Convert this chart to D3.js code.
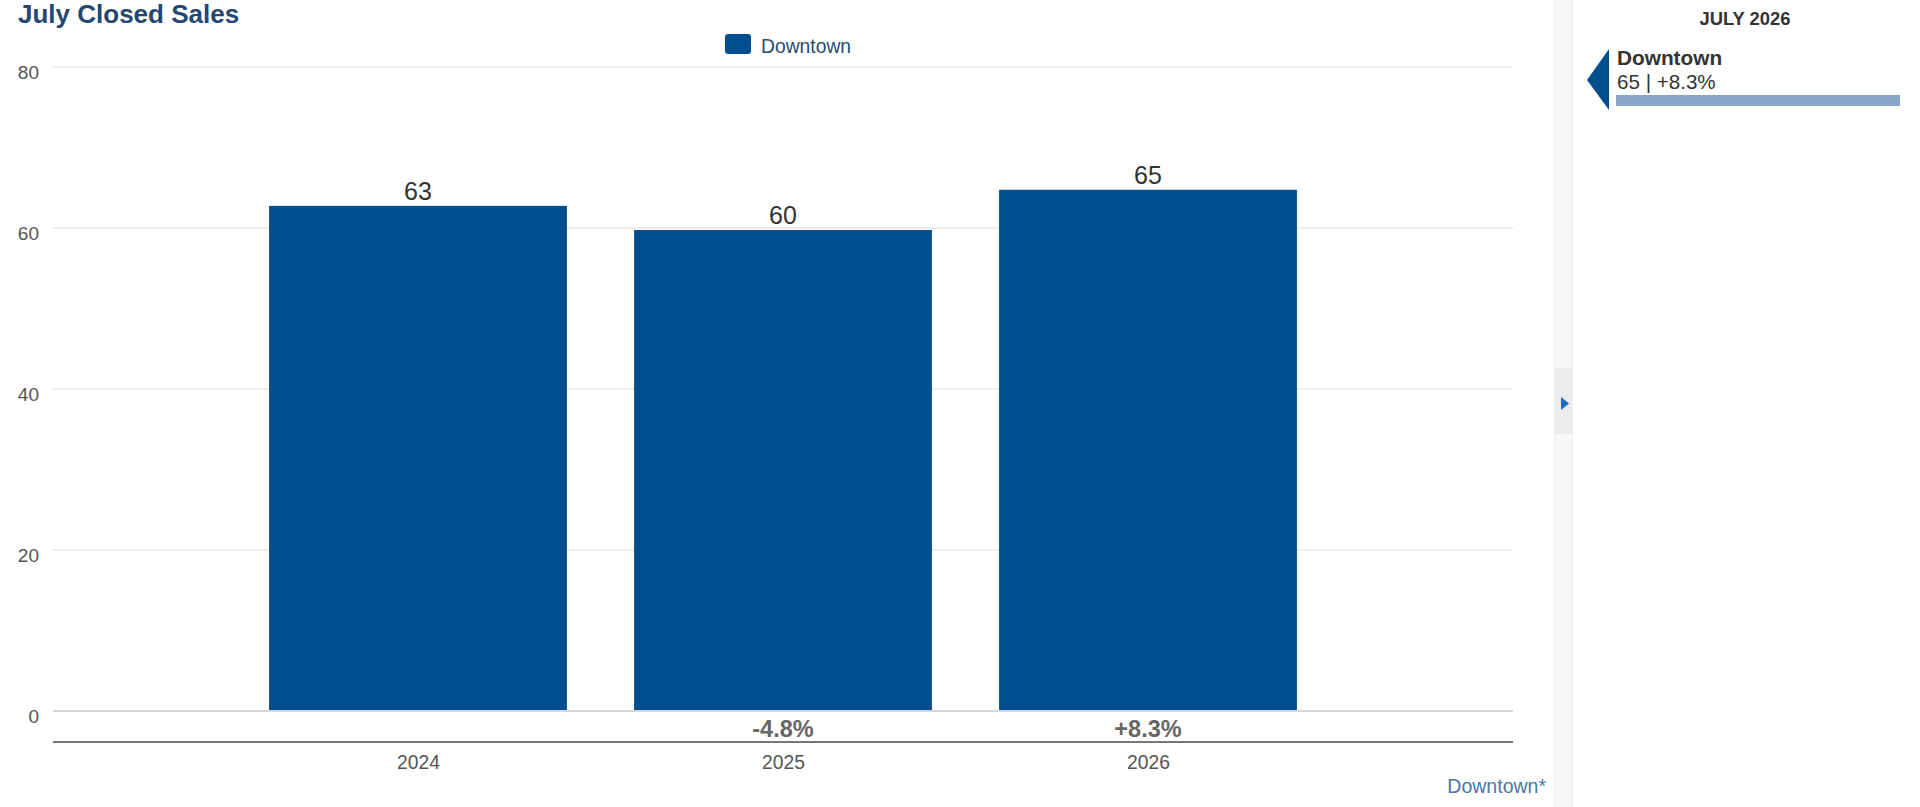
<!DOCTYPE html>
<html>
<head>
<meta charset="utf-8">
<script src="https://cdn.jsdelivr.net/npm/d3@7/dist/d3.min.js"></script>
<style>
  html, body { margin: 0; padding: 0; background: #fff; }
  svg { display: block; font-family: "Liberation Sans", Arial, Helvetica, sans-serif; }
</style>
</head>
<body>
<svg id="chart" width="1920" height="807"></svg>
<script>
// ---- data ----
const chartTitle = "July Closed Sales";
const seriesName = "Downtown";
const years = ["2024", "2025", "2026"];
const values = [63, 60, 65];
const changeLabels = ["", "-4.8%", "+8.3%"];
const yTicks = [0, 20, 40, 60, 80];
const panelTitle = "JULY 2026";
const footnote = "Downtown*";

// ---- layout ----
const W = 1920, H = 807;
const plot = { left: 53, right: 1513, top: 67, bottom: 711 };
const barColor = "#004e8e";

const svg = d3.select("#chart");

const x = d3.scalePoint().domain(years).range([plot.left, plot.right]).padding(1);
const y = d3.scaleLinear().domain([0, 80]).range([plot.bottom, plot.top]);
const barW = x.step() * 0.816;

// title
svg.append("text").attr("x", 18).attr("y", 23)
  .attr("font-size", 26).attr("font-weight", "bold").attr("fill", "#24486f")
  .text(chartTitle);

// legend
const lg = svg.append("g");
lg.append("rect").attr("x", 725).attr("y", 34).attr("width", 26).attr("height", 20)
  .attr("rx", 3).attr("fill", barColor);
lg.append("text").attr("x", 761).attr("y", 53).attr("font-size", 19.3).attr("fill", "#2b4a6e")
  .text(seriesName);

// gridlines
svg.append("g").selectAll("line").data(yTicks).join("line")
  .attr("x1", plot.left).attr("x2", plot.right)
  .attr("y1", d => y(d)).attr("y2", d => y(d))
  .attr("stroke", d => d === 0 ? "#d8d8d8" : "#dcdcdc")
  .attr("stroke-width", d => d === 0 ? 2 : 1);

// y axis labels
const yAxis = d3.axisLeft(y).tickValues(yTicks).tickSize(0).tickPadding(0);
const ya = svg.append("g").attr("transform", `translate(39,0)`).call(yAxis);
ya.select(".domain").remove();
ya.selectAll("text").attr("font-size", 19).attr("fill", "#555")
  .attr("font-family", "Liberation Sans, Arial, sans-serif")
  .attr("dy", "0.32em").attr("transform", "translate(0,5)");

// bars
svg.append("g").selectAll("rect").data(values).join("rect")
  .attr("x", (d, i) => x(years[i]) - barW / 2)
  .attr("y", d => y(d) + 2)
  .attr("width", barW)
  .attr("height", d => y(0) - y(d) - 3)
  .attr("fill", barColor);

// value labels
svg.append("g").selectAll("text").data(values).join("text")
  .attr("x", (d, i) => x(years[i]))
  .attr("y", d => y(d) - 4)
  .attr("text-anchor", "middle").attr("font-size", 25).attr("fill", "#333")
  .text(d => d);

// change labels
svg.append("g").selectAll("text").data(changeLabels).join("text")
  .attr("x", (d, i) => x(years[i]))
  .attr("y", 737)
  .attr("text-anchor", "middle").attr("font-size", 23.5).attr("font-weight", "bold").attr("fill", "#666")
  .text(d => d);

// x axis
const xAxis = d3.axisBottom(x).tickSize(0).tickPadding(0);
const xa = svg.append("g").attr("transform", `translate(0,742)`).call(xAxis);
xa.select(".domain").attr("d", `M${plot.left},0H${plot.right}`).attr("stroke", "#777").attr("stroke-width", 2);
xa.selectAll("text").attr("font-size", 19.3).attr("fill", "#555")
  .attr("font-family", "Liberation Sans, Arial, sans-serif")
  .attr("dy", null).attr("y", 27);

// footnote
svg.append("text").attr("x", 1546).attr("y", 793).attr("text-anchor", "end")
  .attr("font-size", 19.5).attr("fill", "#4a76a8").text(footnote);

// separator band + toggle tab
svg.append("rect").attr("x", 1554).attr("y", 0).attr("width", 19).attr("height", H).attr("fill", "#f7f7f7");
svg.append("line").attr("x1", 1554.5).attr("x2", 1554.5).attr("y1", 0).attr("y2", H).attr("stroke", "#efefef");
svg.append("line").attr("x1", 1572.5).attr("x2", 1572.5).attr("y1", 0).attr("y2", H).attr("stroke", "#f0f0f0");
svg.append("rect").attr("x", 1555).attr("y", 368).attr("width", 17).attr("height", 66).attr("fill", "#ececec");
svg.append("path").attr("d", "M1561,397L1569,403.5L1561,410Z").attr("fill", "#1a6fc4");

// right panel
const lastIdx = values.length - 1;
svg.append("text").attr("x", 1745).attr("y", 25).attr("text-anchor", "middle")
  .attr("font-size", 18.4).attr("font-weight", "bold").attr("fill", "#333").text(panelTitle);
svg.append("path").attr("d", "M1587,80L1609,49L1609,110Z").attr("fill", barColor);
svg.append("text").attr("x", 1617).attr("y", 65)
  .attr("font-size", 20.8).attr("font-weight", "bold").attr("fill", "#333").text(seriesName);
svg.append("text").attr("x", 1617).attr("y", 89)
  .attr("font-size", 20.6).attr("fill", "#333")
  .text(`${values[lastIdx]} | ${changeLabels[lastIdx]}`);
const px = d3.scaleLinear().domain([0, values[lastIdx]]).range([1616, 1900]);
svg.append("rect").attr("x", px(0)).attr("y", 95).attr("width", px(values[lastIdx]) - px(0)).attr("height", 11)
  .attr("fill", "#87a5c6");
</script>
</body>
</html>
